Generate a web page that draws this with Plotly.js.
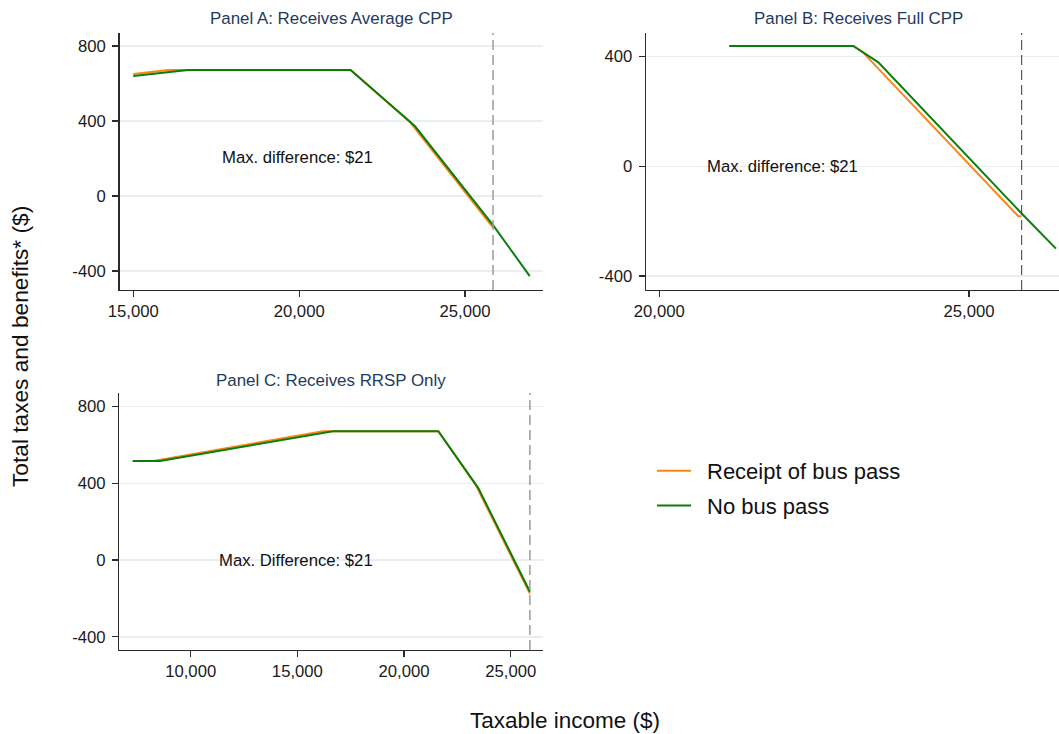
<!DOCTYPE html>
<html>
<head>
<meta charset="utf-8">
<script src="https://cdn.plot.ly/plotly-3.0.1.min.js"></script>
<style>html,body{margin:0;padding:0;background:#fff;}#chart{width:1059px;height:734px;}</style>
</head>
<body>
<div id="chart"></div>
<script>
// ---------- DATA ----------
const seriesNames = ["Receipt of bus pass", "No bus pass"];
const panelTitles = ["Panel A: Receives Average CPP", "Panel B: Receives Full CPP", "Panel C: Receives RRSP Only"];
const panelNotes = ["Max. difference: $21", "Max. difference: $21", "Max. Difference: $21"];

// Panel A
const aBusX = [15000, 16050, 21550, 23330, 25843];
const aBusY = [651, 672, 672, 396, -168];
const aNoX  = [15000, 16650, 21550, 23485, 25843, 26950];
const aNoY  = [640, 672, 672, 373, -155, -427];
// Panel B
const bBusX = [21130, 23132, 23280, 25796, 25850];
const bBusY = [439, 439, 417, -182, -182];
const bNoX  = [21130, 23132, 23536, 25850, 26404];
const bNoY  = [439, 439, 379, -172, -300];
// Panel C
const cBusX = [7282, 8250, 16200, 21607, 23370, 25900];
const cBusY = [516, 516, 672, 672, 390, -175];
const cNoX  = [7282, 8562, 16668, 21607, 23482, 25900];
const cNoY  = [516, 516, 672, 672, 375, -165];

// vertical reference (cut-off) lines
const cutoffs = [25843, 25850, 25900];
// note positions [x, y] in data units
const noteA = [19960, 203];
const noteB = [21990, 0];
const noteC = [14950, 0];

// tick labels
const yTickValsAC = [-400, 0, 400, 800];
const yTickTextAC = ["-400", "0", "400", "800"];
const yTickValsB = [-400, 0, 400];
const yTickTextB = ["-400", "0", "400"];
const xTickValsA = [15000, 20000, 25000];
const xTickTextA = ["15,000", "20,000", "25,000"];
const xTickValsB = [20000, 25000];
const xTickTextB = ["20,000", "25,000"];
const xTickValsC = [10000, 15000, 20000, 25000];
const xTickTextC = ["10,000", "15,000", "20,000", "25,000"];

// ---------- STYLE ----------
const W = 1059, H = 734;
const FONT = "Liberation Sans, Arial, Helvetica, sans-serif";
const ORANGE = "#ff8410";
const GREEN = "#0b7d0b";
const px = v => v / W;
const py = v => (H - v) / H;

function line(x, y, color, name, xa, ya, show, grp) {
  return {x: x, y: y, type: "scatter", mode: "lines", name: "\u2002" + name,
    legendgroup: grp,
    line: {color: color, width: 2}, xaxis: xa, yaxis: ya, showlegend: show,
    hoverinfo: "skip"};
}

const data = [
  line(aBusX, aBusY, ORANGE, seriesNames[0], "x", "y", true, "bus"),
  line(aNoX, aNoY, GREEN, seriesNames[1], "x", "y", true, "nobus"),
  line(bBusX, bBusY, ORANGE, seriesNames[0], "x2", "y2", false, "bus"),
  line(bNoX, bNoY, GREEN, seriesNames[1], "x2", "y2", false, "nobus"),
  line(cBusX, cBusY, ORANGE, seriesNames[0], "x3", "y3", false, "bus"),
  line(cNoX, cNoY, GREEN, seriesNames[1], "x3", "y3", false, "nobus")
];

const axisCommon = {
  showline: true, linecolor: "#2b2b2b", linewidth: 1.4,
  ticks: "outside", ticklen: 6, tickwidth: 1.3, tickcolor: "#2b2b2b",
  tickfont: {family: FONT, size: 16.7, color: "#1a1a1a"},
  zeroline: false, tickmode: "array", fixedrange: true
};
function xax(domain, range, vals, text, anchor) {
  return Object.assign({}, axisCommon, {domain: domain, range: range, tickvals: vals, ticktext: text,
    showgrid: false, anchor: anchor});
}
function yax(domain, range, vals, text, anchor) {
  return Object.assign({}, axisCommon, {domain: domain, range: range, tickvals: vals, ticktext: text,
    showgrid: true, gridcolor: "#e7eff2", gridwidth: 1.6, anchor: anchor, ticklabelstandoff: 3});
}

const domAx = [px(119.5), px(543)];
const domBx = [px(646), 1.0];
const domCx = [px(119.3), px(543)];
const domABy = [py(290), py(33)];
const domCy = [py(650), py(393)];

function cutShape(xref, yref, xv, color, width) {
  return {type: "line", xref: xref, yref: yref + " domain", x0: xv, x1: xv, y0: 0, y1: 1,
    line: {color: color, width: width, dash: "10px,5px"}, layer: "above"};
}

function title(text, xc, yc) {
  return {text: text, xref: "paper", yref: "paper", x: px(xc), y: py(yc), xanchor: "center", yanchor: "middle",
    showarrow: false, font: {family: FONT, size: 16.9, color: "#1f3a60"}};
}
function note(text, xr, yr, pos) {
  return {text: text, xref: xr, yref: yr, x: pos[0], y: pos[1], xanchor: "center", yanchor: "middle",
    showarrow: false, font: {family: FONT, size: 16.7, color: "#111"}};
}

const layout = {
  width: W, height: H,
  margin: {l: 0, r: 0, t: 0, b: 0},
  paper_bgcolor: "#fff", plot_bgcolor: "#fff",
  font: {family: FONT},
  xaxis: xax(domAx, [14584, 27349], xTickValsA, xTickTextA, "y"),
  yaxis: yax(domABy, [-501, 869], yTickValsAC, yTickTextAC, "x"),
  xaxis2: xax(domBx, [19785, 26453], xTickValsB, xTickTextB, "y2"),
  yaxis2: yax(domABy, [-451, 486], yTickValsB, yTickTextB, "x2"),
  xaxis3: xax(domCx, [6654, 26514], xTickValsC, xTickTextC, "y3"),
  yaxis3: yax(domCy, [-469, 871], yTickValsAC, yTickTextAC, "x3"),
  shapes: [
    cutShape("x", "y", cutoffs[0], "#9a9a9a", 1.5),
    cutShape("x2", "y2", cutoffs[1], "#4a4a4a", 1.1),
    cutShape("x3", "y3", cutoffs[2], "#9a9a9a", 1.5)
  ],
  annotations: [
    title(panelTitles[0], 331, 19),
    title(panelTitles[1], 858, 19),
    title(panelTitles[2], 331, 380),
    note(panelNotes[0], "x", "y", noteA),
    note(panelNotes[1], "x2", "y2", noteB),
    note(panelNotes[2], "x3", "y3", noteC),
    {text: "Taxable income ($)", xref: "paper", yref: "paper", x: px(565), y: py(720),
      xanchor: "center", yanchor: "middle", showarrow: false, font: {family: FONT, size: 22.5, color: "#111"}},
    {text: "Total taxes and benefits* ($)", xref: "paper", yref: "paper", x: px(20), y: py(347),
      xanchor: "center", yanchor: "middle", textangle: -90, showarrow: false,
      font: {family: FONT, size: 22.7, color: "#111"}}
  ],
  showlegend: true,
  legend: {x: px(652), y: py(450), xanchor: "left", yanchor: "top",
    font: {family: FONT, size: 22, color: "#111"}, bgcolor: "rgba(0,0,0,0)",
    borderwidth: 0, itemwidth: 34, traceorder: "grouped", tracegroupgap: 3}
};

Plotly.newPlot("chart", data, layout, {displayModeBar: false, staticPlot: true});
</script>
</body>
</html>
